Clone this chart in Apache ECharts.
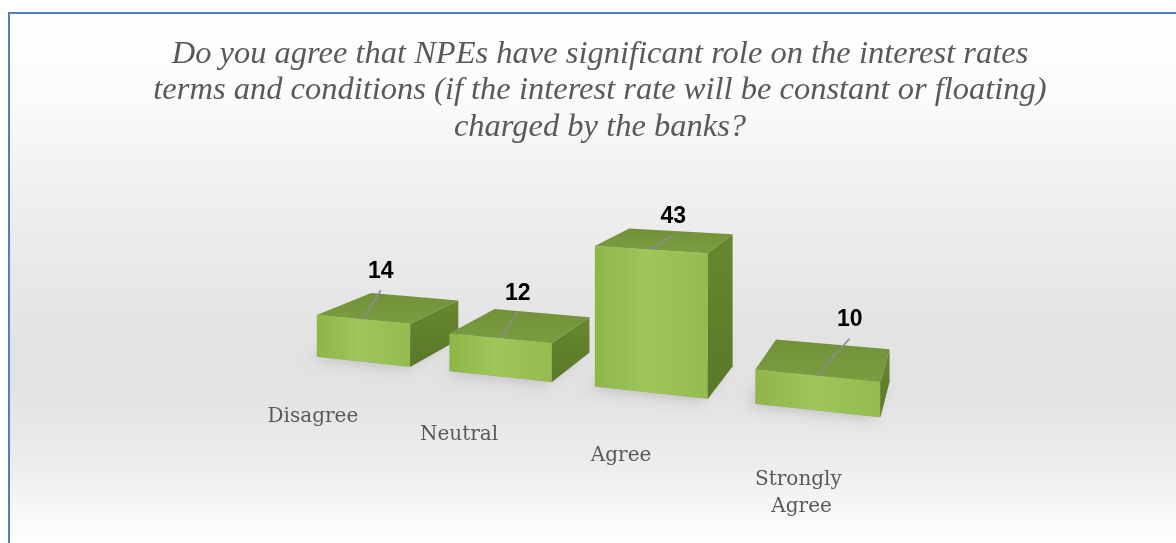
<!DOCTYPE html>
<html>
<head>
<meta charset="utf-8">
<title>NPEs and interest rate terms</title>
<script src="https://cdn.jsdelivr.net/npm/echarts@6/dist/echarts.min.js"></script>
<style>
  html, body { margin: 0; padding: 0; background: #ffffff; }
  #chart { width: 1176px; height: 543px; }
</style>
</head>
<body>
<div id="chart"></div>
<script>
// ---- survey data ----
const categories = ['Disagree', 'Neutral', 'Agree', 'Strongly Agree'];
const responses = [14, 12, 43, 10];
const questionTitle =
  'Do you agree that NPEs have significant role on the interest rates\n' +
  'terms and conditions (if the interest rate will be constant or floating)\n' +
  'charged by the banks?';

// ---- layout ----
// The hidden cartesian grid acts as the floor/height frame of a 3D scene:
// one category band = BAND world units, value axis = world height.
const BAND = 49.4;
const BAR_RATIO = 0.714;          // bar width (and depth) as share of the band
const VALUE_MAX = 100;

// Perspective camera (two-point perspective, yawed to the left)
const CAM = {
  cx: 588, cy: 50,                 // principal point / horizon
  focal: 1099,
  eyeHeight: 103,
  yaw: 19.39 * Math.PI / 180,
  ox: -97.75, oz: 371.44           // grid origin in camera space
};
const COS = Math.cos(CAM.yaw), SIN = Math.sin(CAM.yaw);

function project(X, Y, Z) {
  const xc = CAM.ox + X * COS + Z * SIN;
  const zc = CAM.oz - X * SIN + Z * COS;
  const yc = Y - CAM.eyeHeight;
  return [CAM.cx + CAM.focal * xc / zc, CAM.cy - CAM.focal * yc / zc];
}

// value labels sit up and to the right of each bar's top, joined by a leader line
const valueLabelNudge = [[18, -48], [18, -45], [23, -33], [33, -56]];

const FONT_TEXT = 'DejaVu Serif';
const GREY_TEXT = '#595959';

function renderBar(params, api) {
  const i = api.value(0);
  const v = api.value(1);
  const base = api.coord([i, 0]);
  const top = api.coord([i, v]);
  const band = api.size([1, 0])[0];
  const w = band * BAR_RATIO;
  const d = w;
  const h = base[1] - top[1];
  const x0 = base[0] - w / 2, x1 = base[0] + w / 2;

  const FLB = project(x0, 0, 0), FRB = project(x1, 0, 0);
  const BRB = project(x1, 0, d), BLB = project(x0, 0, d);
  const FLT = project(x0, h, 0), FRT = project(x1, h, 0);
  const BRT = project(x1, h, d), BLT = project(x0, h, d);

  const frontFill = new echarts.graphic.LinearGradient(0, 0, 1, 0, [
    { offset: 0, color: '#8eb547' },
    { offset: 0.45, color: '#9fc65a' },
    { offset: 1, color: '#93bb4d' }
  ]);
  const sideFill = new echarts.graphic.LinearGradient(0, 0, 0, 1, [
    { offset: 0, color: '#67872f' },
    { offset: 1, color: '#5a7828' }
  ]);
  const topFill = new echarts.graphic.LinearGradient(0, 1, 0, 0, [
    { offset: 0, color: '#7b9c3f' },
    { offset: 1, color: '#72923a' }
  ]);

  // label anchors
  const topMid = project(base[0], h, 0);
  const nudge = valueLabelNudge[i];
  const lx = topMid[0] + nudge[0], ly = topMid[1] + nudge[1];
  const catAnchor = project(base[0], -9, -29);

  return {
    type: 'group',
    children: [
      {
        type: 'polygon', z2: 0,
        shape: { points: [FLB, FRB, BRB, BLB] },
        style: {
          fill: 'rgba(60,60,60,0.35)',
          shadowBlur: 14, shadowColor: 'rgba(0,0,0,0.45)',
          shadowOffsetX: -7, shadowOffsetY: 2
        }
      },
      { type: 'polygon', z2: 1, shape: { points: [FLB, FRB, FRT, FLT] }, style: { fill: frontFill } },
      { type: 'polygon', z2: 1, shape: { points: [FRB, BRB, BRT, FRT] }, style: { fill: sideFill } },
      { type: 'polygon', z2: 1, shape: { points: [FLT, FRT, BRT, BLT] }, style: { fill: topFill } },
      {
        type: 'line', z2: 2,
        shape: { x1: topMid[0], y1: topMid[1], x2: lx, y2: ly + 19 },
        style: { stroke: '#8a8b98', lineWidth: 1.6 }
      },
      {
        type: 'text', z2: 3, x: lx, y: ly,
        style: {
          text: String(v), align: 'center', verticalAlign: 'middle',
          fontFamily: 'Liberation Sans', fontWeight: 'bold', fontSize: 23, fill: '#000000'
        }
      },
      {
        type: 'text', z2: 3, x: catAnchor[0], y: catAnchor[1] - 13.5,
        style: {
          text: categories[i], align: 'center', verticalAlign: 'top',
          width: 110, overflow: 'break', lineHeight: 27,
          fontFamily: FONT_TEXT, fontSize: 20, fill: GREY_TEXT
        }
      }
    ]
  };
}

const chart = echarts.init(document.getElementById('chart'), null, { renderer: 'canvas' });

chart.setOption({
  animation: false,
  title: {
    text: questionTitle,
    left: 595, top: 31, textAlign: 'center',
    textStyle: {
      fontFamily: 'Liberation Serif', fontStyle: 'italic', fontWeight: 'normal',
      fontSize: 32.5, lineHeight: 36.5, color: GREY_TEXT
    }
  },
  graphic: [
    {
      type: 'rect', z: -10, silent: true,
      shape: { x: 9, y: 13, width: 1200, height: 532 },
      style: {
        fill: new echarts.graphic.LinearGradient(0, 0, 0, 1, [
          { offset: 0, color: '#ffffff' },
          { offset: 0.15, color: '#fbfbfb' },
          { offset: 0.35, color: '#efefef' },
          { offset: 0.6, color: '#e3e3e3' },
          { offset: 0.72, color: '#e3e3e3' },
          { offset: 0.86, color: '#eeeeee' },
          { offset: 1, color: '#ffffff' }
        ])
      }
    },
    {
      type: 'rect', z: 100, silent: true,
      shape: { x: 9, y: 13, width: 1200, height: 600 },
      style: { fill: 'none', stroke: '#4e80bd', lineWidth: 2 }
    }
  ],
  grid: { left: 0, top: 0, width: BAND * categories.length, height: VALUE_MAX, show: false },
  xAxis: { type: 'category', data: categories, show: false },
  yAxis: { type: 'value', min: 0, max: VALUE_MAX, show: false },
  series: [{
    type: 'custom',
    clip: false,
    renderItem: renderBar,
    encode: { x: 0, y: 1 },
    data: responses.map((v, i) => [i, v])
  }]
});
</script>
</body>
</html>
